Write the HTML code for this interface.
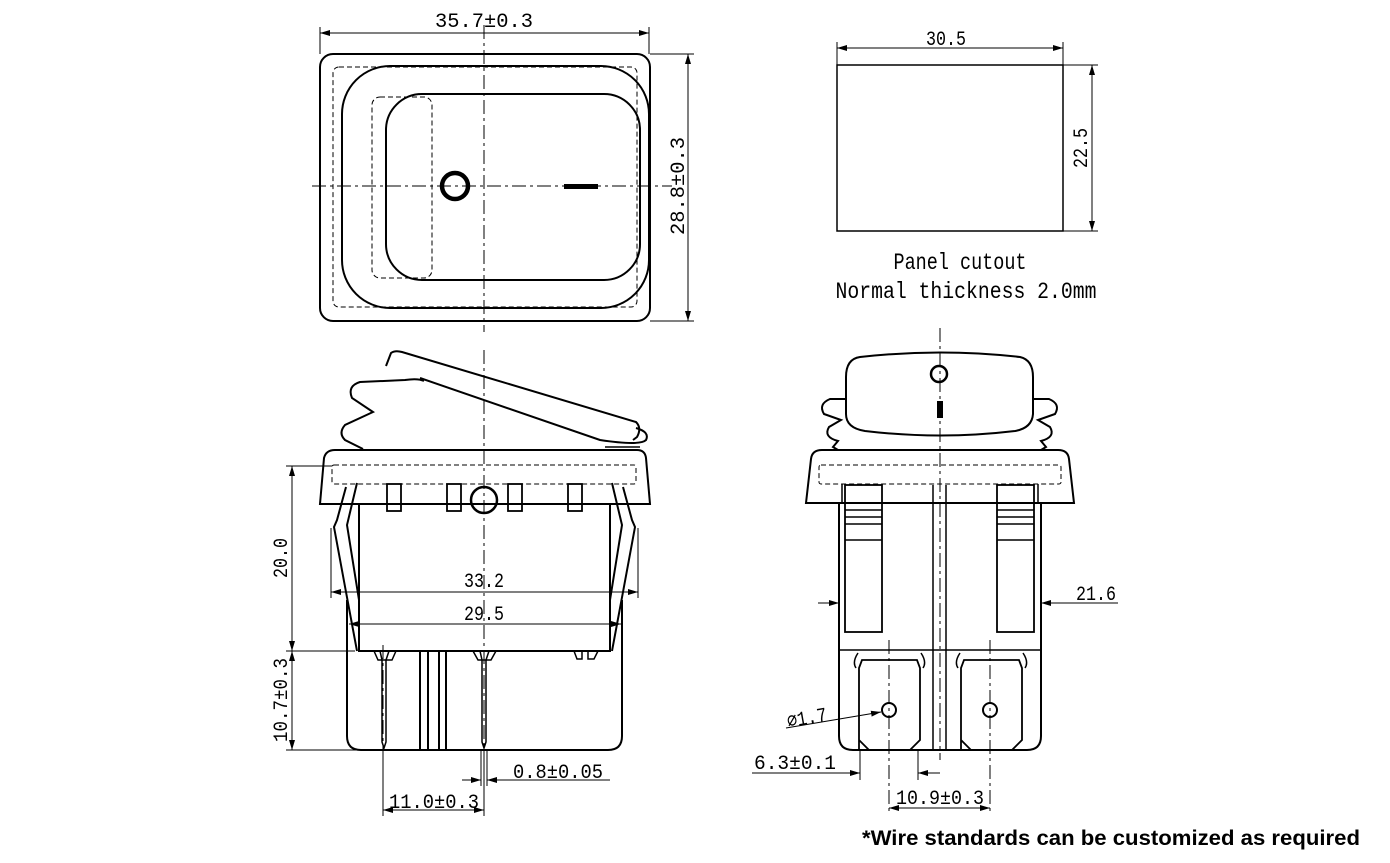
<!DOCTYPE html>
<html><head><meta charset="utf-8"><style>html,body{margin:0;padding:0;background:#fff}svg{display:block}</style></head><body>
<svg width="1390" height="863" viewBox="0 0 1390 863" xmlns="http://www.w3.org/2000/svg">
<defs>
<marker id="a" viewBox="0 0 10 6" refX="10" refY="3" markerWidth="10" markerHeight="6" orient="auto-start-reverse" markerUnits="userSpaceOnUse"><path d="M0,0 L10,3 L0,6 Z" fill="#000"/></marker>
</defs>
<g fill="none" stroke="#000" stroke-width="2">
<!-- top view -->
<rect x="320" y="54" width="330" height="267" rx="13"/>
<rect x="333" y="67" width="304" height="240" rx="6" stroke-width="1" stroke-dasharray="5,3"/>
<rect x="342" y="66" width="307" height="242" rx="48"/>
<rect x="372" y="97" width="60" height="181" rx="8" stroke-width="1" stroke-dasharray="5,3"/>
<rect x="386" y="94" width="254" height="186" rx="36"/>
<circle cx="455" cy="186" r="13" stroke-width="4.5"/>
<rect x="564" y="184" width="34" height="5" fill="#000" stroke="none"/>
<g stroke-width="1" stroke-dasharray="14,4,3,4">
<line x1="484" y1="25" x2="484" y2="332"/>
<line x1="312" y1="186" x2="672" y2="186"/>
</g>
<g stroke-width="1">
<line x1="320" y1="27" x2="320" y2="54"/><line x1="649" y1="27" x2="649" y2="54"/>
<line x1="320" y1="33" x2="649" y2="33" marker-start="url(#a)" marker-end="url(#a)"/>
<line x1="650" y1="54" x2="694" y2="54"/><line x1="650" y1="321" x2="694" y2="321"/>
<line x1="688" y1="54" x2="688" y2="321" marker-start="url(#a)" marker-end="url(#a)"/>
<!-- panel -->
<line x1="837" y1="42" x2="837" y2="65"/><line x1="1063" y1="42" x2="1063" y2="65"/>
<line x1="837" y1="48" x2="1063" y2="48" marker-start="url(#a)" marker-end="url(#a)"/>
<line x1="1063" y1="65" x2="1098" y2="65"/><line x1="1063" y1="231" x2="1098" y2="231"/>
<line x1="1092" y1="65" x2="1092" y2="231" marker-start="url(#a)" marker-end="url(#a)"/>
</g>
<rect x="837" y="65" width="226" height="166" stroke-width="1.5"/>

<!-- side view left -->
<path d="M386 366 L391 353 Q395 350 402 352 L636 422 Q642 428 637 437 L633 440"/>
<path d="M420 378 L600 440 Q640 446 646 440 Q650 432 636 428"/>
<path d="M424 381 Q418 378 405 380 L360 382 Q347 386 352 398 L373 412 L345 425 Q338 433 345 440 L363 449"/>
<line x1="605" y1="447" x2="640" y2="447" stroke-width="1.5"/>
<path d="M320 504 L324 458 Q326 450 335 450 L637 450 Q645 450 646 458 L650 504 Z"/>
<rect x="332" y="465" width="304" height="19" rx="2" stroke-width="1" stroke-dasharray="5,3"/>
<g stroke-width="1.8">
<rect x="387" y="484" width="14" height="27"/><rect x="447" y="484" width="14" height="27"/>
<rect x="508" y="484" width="14" height="27"/><rect x="568" y="484" width="14" height="27"/>
</g>
<circle cx="484" cy="500" r="13" stroke-width="2.5"/>
<path d="M359 504 L359 651 L610 651 L610 504"/>
<path d="M346 487 L337 520 L334 527 L346 592 L357 651"/>
<path d="M357 483 L347 525 L359 600"/>
<path d="M623 487 L632 520 L635 527 L623 592 L612 651"/>
<path d="M612 483 L622 525 L610 600"/>
<path d="M347 600 L347 736 Q347 750 361 750 L608 750 Q622 750 622 736 L622 600"/>
<line x1="420" y1="651" x2="420" y2="750"/><line x1="428" y1="651" x2="428" y2="750"/>
<line x1="439" y1="651" x2="439" y2="750"/><line x1="446" y1="651" x2="446" y2="750"/>
<path d="M380 651 L382 660 L382 742 L384 748 L386 742 L386 660 L389 651" stroke-width="1.5"/>
<path d="M480 651 L482 660 L482 742 L484 748 L486 742 L486 660 L489 651" stroke-width="1.5"/>
<path d="M374 651 L378 660 L392 660 L396 651" stroke-width="1.5"/>
<path d="M473 651 L478 660 L491 660 L496 651" stroke-width="1.5"/>
<path d="M574 651 L577 659 L582 659 L582 651 M588 651 L588 659 L594 659 L598 651" stroke-width="1.5"/>
<g stroke-width="1" stroke-dasharray="14,4,3,4">
<line x1="484" y1="350" x2="484" y2="790"/>
<line x1="383" y1="645" x2="383" y2="790"/>
</g>
<g stroke-width="1">
<line x1="286" y1="466" x2="332" y2="466"/><line x1="286" y1="651" x2="355" y2="651"/><line x1="286" y1="750" x2="383" y2="750"/>
<line x1="292" y1="466" x2="292" y2="651" marker-start="url(#a)" marker-end="url(#a)"/>
<line x1="292" y1="651" x2="292" y2="750" marker-start="url(#a)" marker-end="url(#a)"/>
<line x1="331" y1="528" x2="331" y2="598"/><line x1="638" y1="528" x2="638" y2="598"/>
<line x1="331" y1="592" x2="638" y2="592" marker-start="url(#a)" marker-end="url(#a)"/>
<line x1="349" y1="624" x2="621" y2="624" marker-start="url(#a)" marker-end="url(#a)"/>
<line x1="383" y1="750" x2="383" y2="816"/><line x1="484" y1="750" x2="484" y2="816"/>
<line x1="383" y1="810" x2="484" y2="810" marker-start="url(#a)" marker-end="url(#a)"/>
<line x1="481" y1="750" x2="481" y2="786"/><line x1="487" y1="750" x2="487" y2="786"/>
<line x1="462" y1="780" x2="481" y2="780" marker-end="url(#a)"/>
<line x1="610" y1="780" x2="487" y2="780" marker-end="url(#a)"/>
</g>

<!-- front view right -->
<path d="M846 377 Q846 359 860 357 Q940 348 1020 357 Q1033 360 1033 377 L1033 414 Q1032 428 1015 431 Q940 440 865 431 Q846 428 846 414 Z"/>
<circle cx="939" cy="374" r="8" stroke-width="2.5"/>
<rect x="937" y="401" width="6" height="17" fill="#000" stroke="none"/>
<path d="M846 399 L830 399 Q818 404 824 414 L841 420 L829 427 Q823 437 838 441 L833 447 L838 450"/>
<path d="M1033 399 L1049 399 Q1061 404 1055 414 L1038 420 L1050 427 Q1056 437 1041 441 L1046 447 L1041 450"/>
<path d="M806 503 L811 459 Q812 450 822 450 L1058 450 Q1068 450 1069 459 L1074 503 Z"/>
<rect x="819" y="465" width="242" height="19" rx="2" stroke-width="1" stroke-dasharray="5,3"/>
<path d="M839 503 L839 736 Q839 750 853 750 L1027 750 Q1041 750 1041 736 L1041 503"/>
<path d="M842 484 L842 503 M1038 484 L1038 503" stroke-width="1.5"/>
<line x1="839" y1="650" x2="1041" y2="650" stroke-width="1.5"/>
<rect x="845" y="485" width="37" height="147" stroke-width="1.8"/>
<rect x="997" y="485" width="37" height="147" stroke-width="1.8"/>
<g stroke-width="1.5">
<line x1="845" y1="503" x2="882" y2="503"/><line x1="845" y1="510" x2="882" y2="510"/><line x1="845" y1="517" x2="882" y2="517"/><line x1="845" y1="524" x2="882" y2="524"/><line x1="845" y1="540" x2="882" y2="540"/>
<line x1="997" y1="503" x2="1034" y2="503"/><line x1="997" y1="510" x2="1034" y2="510"/><line x1="997" y1="517" x2="1034" y2="517"/><line x1="997" y1="524" x2="1034" y2="524"/><line x1="997" y1="540" x2="1034" y2="540"/>
</g>
<line x1="933" y1="485" x2="933" y2="750" stroke-width="1.5"/><line x1="946" y1="485" x2="946" y2="750" stroke-width="1.5"/>
<path d="M859 750 L859 668 L862 660 L917 660 L920 668 L920 740 L910 750 M869 750 L859 740" stroke-width="1.8"/>
<path d="M961 750 L961 668 L964 660 L1019 660 L1022 668 L1022 740 L1012 750 M971 750 L961 740" stroke-width="1.8"/>
<path d="M858 653 Q852 662 856 668 M921 653 Q927 662 923 668 M960 653 Q954 662 958 668 M1023 653 Q1029 662 1025 668" stroke-width="1.5"/>
<circle cx="889" cy="710" r="7"/><circle cx="990" cy="710" r="7"/>
<g stroke-width="1" stroke-dasharray="14,4,3,4">
<line x1="940" y1="328" x2="940" y2="760"/>
<line x1="889" y1="640" x2="889" y2="812"/>
<line x1="990" y1="640" x2="990" y2="812"/>
</g>
<g stroke-width="1">
<line x1="818" y1="603" x2="839" y2="603" marker-end="url(#a)"/>
<line x1="1118" y1="603" x2="1041" y2="603" marker-end="url(#a)"/>
<line x1="786" y1="728" x2="881" y2="712" marker-end="url(#a)"/>
<line x1="860" y1="750" x2="860" y2="780"/><line x1="918" y1="750" x2="918" y2="780"/>
<line x1="752" y1="773" x2="860" y2="773" marker-end="url(#a)"/>
<line x1="940" y1="773" x2="918" y2="773" marker-end="url(#a)"/>
<line x1="889" y1="808" x2="990" y2="808" marker-start="url(#a)" marker-end="url(#a)"/>
</g>
</g>
<g font-family="'Liberation Mono','DejaVu Sans Mono',monospace" font-size="20" fill="#000">
<text x="484" y="27" text-anchor="middle" textLength="98" lengthAdjust="spacingAndGlyphs">35.7±0.3</text>
<text transform="translate(684,186) rotate(-90)" text-anchor="middle" textLength="98" lengthAdjust="spacingAndGlyphs">28.8±0.3</text>
<text x="946" y="45" text-anchor="middle" textLength="40" lengthAdjust="spacingAndGlyphs">30.5</text>
<text transform="translate(1087,148) rotate(-90)" text-anchor="middle" textLength="40" lengthAdjust="spacingAndGlyphs">22.5</text>
<text x="960" y="269" text-anchor="middle" font-size="23" textLength="133" lengthAdjust="spacingAndGlyphs">Panel cutout</text>
<text x="966" y="298" text-anchor="middle" font-size="23" textLength="261" lengthAdjust="spacingAndGlyphs">Normal thickness 2.0mm</text>
<text transform="translate(287,558) rotate(-90)" text-anchor="middle" textLength="40" lengthAdjust="spacingAndGlyphs">20.0</text>
<text transform="translate(287,700) rotate(-90)" text-anchor="middle" textLength="84" lengthAdjust="spacingAndGlyphs">10.7±0.3</text>
<text x="484" y="587" text-anchor="middle" textLength="40" lengthAdjust="spacingAndGlyphs">33.2</text>
<text x="484" y="620" text-anchor="middle" textLength="40" lengthAdjust="spacingAndGlyphs">29.5</text>
<text x="558" y="778" text-anchor="middle" textLength="90" lengthAdjust="spacingAndGlyphs">0.8±0.05</text>
<text x="434" y="808" text-anchor="middle" textLength="90" lengthAdjust="spacingAndGlyphs">11.0±0.3</text>
<text x="1096" y="600" text-anchor="middle" textLength="40" lengthAdjust="spacingAndGlyphs">21.6</text>
<text transform="translate(808,724) rotate(-10)" text-anchor="middle" textLength="40" lengthAdjust="spacingAndGlyphs">⌀1.7</text>
<text x="795" y="769" text-anchor="middle" textLength="82" lengthAdjust="spacingAndGlyphs">6.3±0.1</text>
<text x="940" y="804" text-anchor="middle" textLength="88" lengthAdjust="spacingAndGlyphs">10.9±0.3</text>
</g>
<text x="862" y="845" font-family="'Liberation Sans',sans-serif" font-weight="bold" font-size="21" fill="#000" textLength="498" lengthAdjust="spacingAndGlyphs">*Wire standards can be customized as required</text>
</svg>
</body></html>
